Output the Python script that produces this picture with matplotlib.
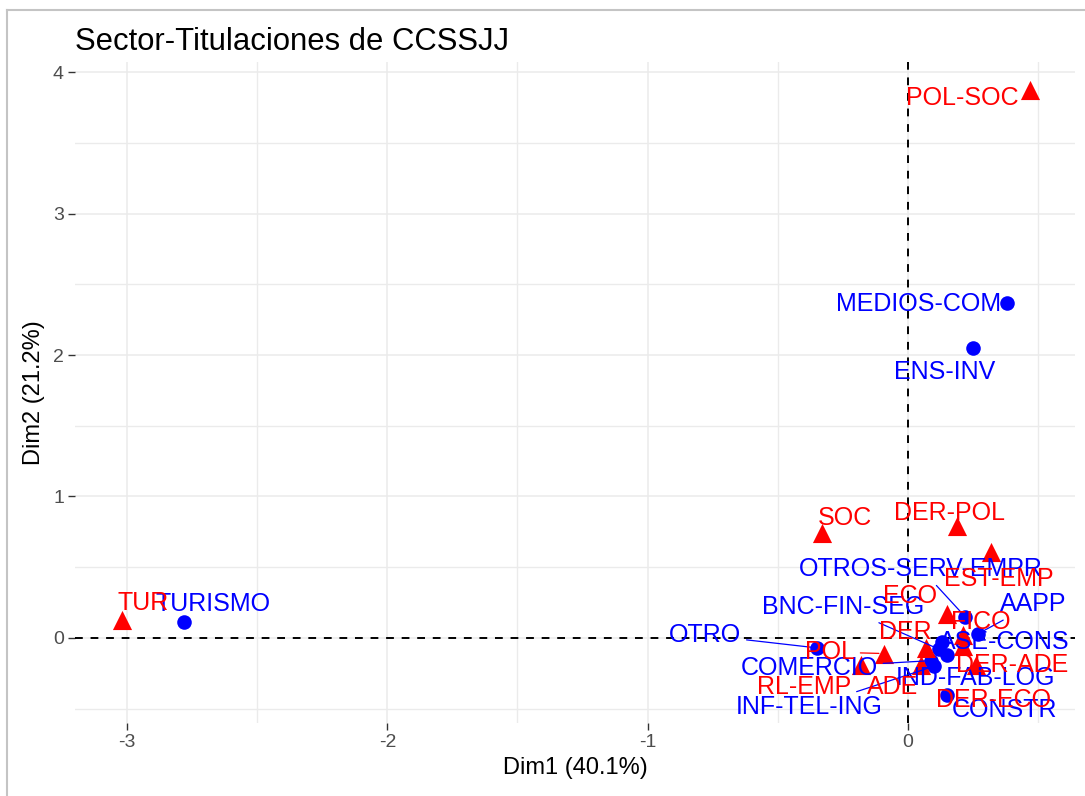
import matplotlib as mpl
mpl.use('Agg')
import matplotlib.pyplot as plt
from matplotlib.lines import Line2D
from matplotlib.ticker import MultipleLocator

plt.rcParams['font.family'] = ['Liberation Sans', 'DejaVu Sans']

## Datos: coordenadas de filas (sectores) y columnas (titulaciones)
sector_names = ['MEDIOS-COM', 'ENS-INV', 'TURISMO', 'OTRO', 'OTROS-SERV-EMPR', 'AAPP',
                'ASE-CONS', 'BNC-FIN-SEG', 'COMERCIO', 'IND-FAB-LOG', 'INF-TEL-ING', 'CONSTR']
sector_dim1 = [0.38, 0.25, -2.78, -0.35, 0.22, 0.27, 0.13, 0.12, 0.09, 0.15, 0.10, 0.15]
sector_dim2 = [2.37, 2.05, 0.11, -0.07, 0.15, 0.03, -0.03, -0.08, -0.16, -0.12, -0.20, -0.40]

titul_names = ['POL-SOC', 'SOC', 'DER-POL', 'EST-EMP', 'TUR', 'ECO', 'FICO', 'DER',
               'POL', 'RL-EMP', 'ADE', 'DER-ADE', 'DER-ECO']
titul_dim1 = [0.47, -0.33, 0.19, 0.32, -3.02, 0.15, 0.21, 0.07, -0.09, -0.18, 0.05, 0.26, 0.21]
titul_dim2 = [3.87, 0.74, 0.79, 0.61, 0.13, 0.17, 0.02, -0.07, -0.11, -0.19, -0.19, -0.19, -0.06]

xlab = 'Dim1 (40.1%)'
ylab = 'Dim2 (21.2%)'
title = 'Sector-Titulaciones de CCSSJJ'

## posiciones de las etiquetas (tipo ggrepel) y si llevan segmento
sector_lab = [(0.04, 2.36), (0.14, 1.88), (-2.67, 0.24), (-0.78, 0.02), (0.05, 0.49),
              (0.48, 0.24), (0.37, -0.03), (-0.25, 0.22), (-0.38, -0.21), (0.26, -0.28),
              (-0.38, -0.49), (0.37, -0.51)]
sector_seg = [False, False, False, True, True, True, False, True, True, False, True, False]
titul_lab = [(0.21, 3.82), (-0.24, 0.85), (0.16, 0.88), (0.35, 0.42), (-2.94, 0.25),
             (0.01, 0.30), (0.28, 0.11), (-0.01, 0.04), (-0.30, -0.10), (-0.40, -0.35),
             (-0.06, -0.35), (0.40, -0.19), (0.33, -0.44)]
titul_seg = [False, False, False, False, False, False, False, False, True, False, False, False, False]

W, H = 1085, 796
fig = plt.figure(figsize=(W/100, H/100), dpi=100)
ax = fig.add_axes([75/W, 73/H, 1000/W, 661/H])

# marco exterior (captura)
fig.add_artist(Line2D([7/W, 7/W], [0, 1-10/H], color='#C4C4C4', lw=1.5))
fig.add_artist(Line2D([7/W, 1], [1-10/H, 1-10/H], color='#C4C4C4', lw=1.5))

ax.set_xlim(-3.20, 0.642)
ax.set_ylim(-0.601, 4.071)
ax.xaxis.set_major_locator(MultipleLocator(1))
ax.yaxis.set_major_locator(MultipleLocator(1))
ax.xaxis.set_minor_locator(MultipleLocator(0.5))
ax.yaxis.set_minor_locator(MultipleLocator(0.5))
ax.grid(True, which='major', color='#EBEBEB', lw=1.1)
ax.grid(True, which='minor', color='#EBEBEB', lw=1.0)
ax.set_axisbelow(True)
for s in ax.spines.values():
    s.set_visible(False)
ax.tick_params(which='major', length=5, width=1, color='#333333', labelcolor='#4D4D4D',
               labelsize=14, pad=3)
ax.tick_params(which='minor', length=0)
ax.set_xticks([-3, -2, -1, 0])
ax.set_xticklabels(['-3', '-2', '-1', '0'])
ax.set_yticks([0, 1, 2, 3, 4])

ax.axhline(0, color='black', lw=1.4, ls=(0, (4, 4)), zorder=1)
ax.axvline(0, color='black', lw=1.4, ls=(0, (4, 4)), zorder=1)

ax.scatter(sector_dim1, sector_dim2, marker='o', s=110, color='blue', zorder=3, linewidths=0)
ax.scatter(titul_dim1, titul_dim2, marker='^', s=190, color='red', zorder=3, linewidths=0)

def etiquetas(names, xs, ys, labs, segs, col):
    for n, x, y, (lx, ly), sg in zip(names, xs, ys, labs, segs):
        if sg:
            ax.annotate(n, xy=(x, y), xytext=(lx, ly), color=col, fontsize=18,
                        ha='center', va='center', zorder=4,
                        arrowprops=dict(arrowstyle='-', color=col, lw=0.9,
                                        shrinkA=2, shrinkB=4))
        else:
            ax.text(lx, ly, n, color=col, fontsize=18, ha='center', va='center', zorder=4)

etiquetas(sector_names, sector_dim1, sector_dim2, sector_lab, sector_seg, 'blue')
etiquetas(titul_names, titul_dim1, titul_dim2, titul_lab, titul_seg, 'red')

ax.set_xlabel(xlab, fontsize=17, labelpad=4)
ax.set_ylabel(ylab, fontsize=17, labelpad=6)
ax.set_title(title, loc='left', fontsize=22.3, pad=9)

plt.savefig('out.png', dpi=100)
plt.close(fig)
